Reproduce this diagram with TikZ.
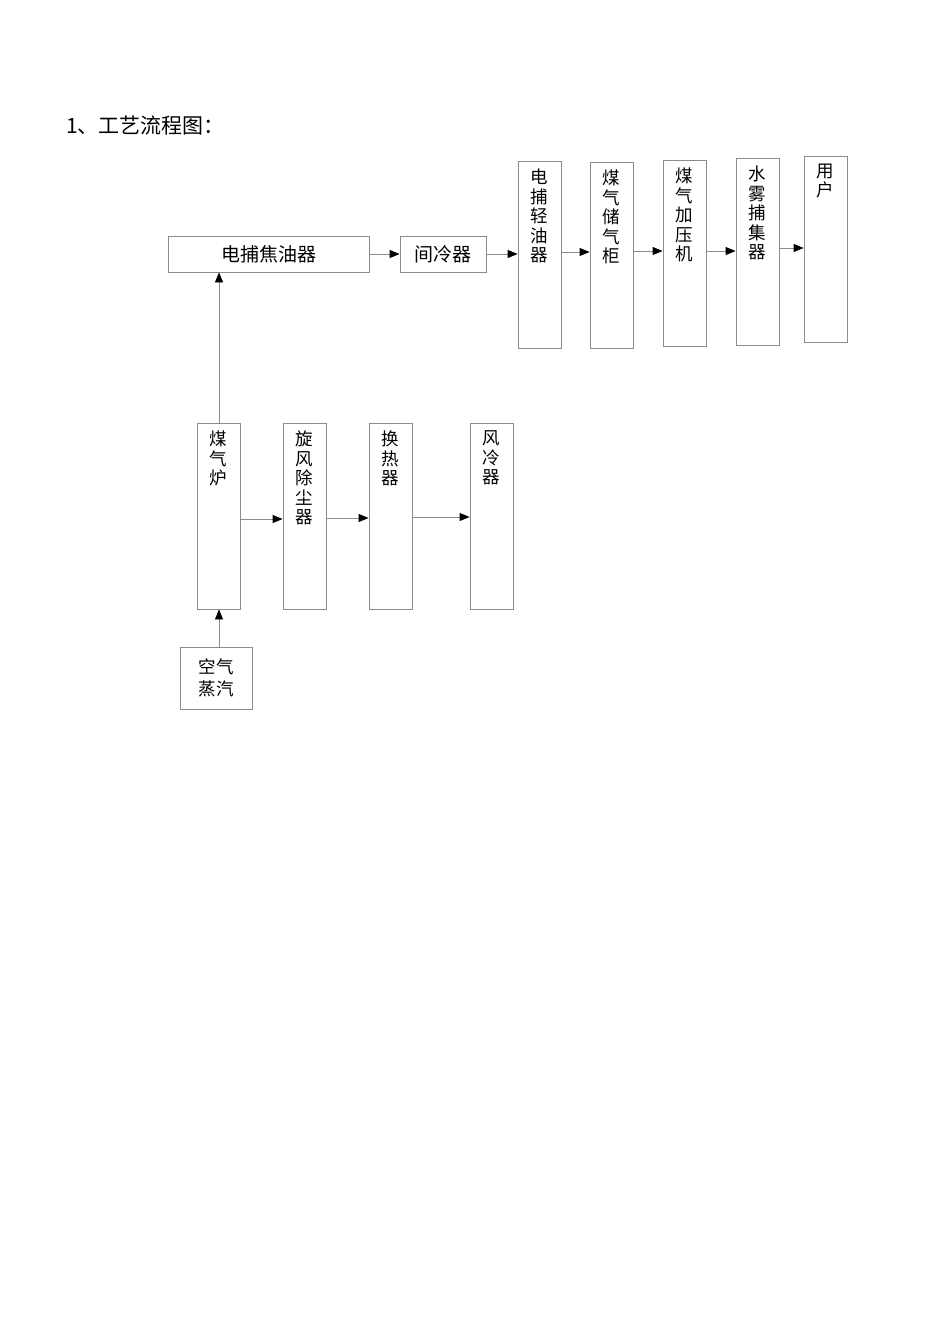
\documentclass[tikz,border=0pt]{standalone}
\usepackage{fontspec}
\setmainfont{Noto Sans CJK SC}
\usetikzlibrary{arrows.meta}
\begin{document}
\begin{tikzpicture}[x=1pt,y=-1pt,
  box/.style={draw=black!45,line width=0.8pt,inner sep=0pt,minimum width=#1},
  box/.default=43pt,
  vtxt/.style={anchor=north,inner sep=0pt,align=center,font=\fontsize{17.5}{19.6}\selectfont},
  htxt/.style={font=\fontsize{19}{22}\selectfont},
  arr/.style={draw=black!45,line width=0.8pt,-{Triangle[black,length=10pt,width=8pt]}}
]
\path[use as bounding box] (0,0) rectangle (950,1344);
\node[anchor=west,inner sep=0pt,font=\fontsize{21}{24}\selectfont] (title) at (66,126) {1、工艺流程图：};

% top row
\node[box=201pt,minimum height=36pt,htxt] (djy) at (268.5,254) {电捕焦油器};
\node[box=86pt,minimum height=36pt,htxt] (jlq) at (443,254) {间冷器};
\node[box,minimum height=187pt] (dqy) at (539.5,254.5) {};
\node[box,minimum height=186pt] (cqg) at (611.5,255) {};
\node[box,minimum height=186pt] (jyj) at (684.5,253) {};
\node[box,minimum height=187pt] (swb) at (757.5,251.5) {};
\node[box,minimum height=186pt] (yh) at (825.5,249) {};
\node[vtxt] (dqy-t) at ([yshift=-8pt]dqy.north) {电\\捕\\轻\\油\\器};
\node[vtxt] (cqg-t) at ([yshift=-8pt]cqg.north) {煤\\气\\储\\气\\柜};
\node[vtxt] (jyj-t) at ([yshift=-8pt]jyj.north) {煤\\气\\加\\压\\机};
\node[vtxt] (swb-t) at ([yshift=-8pt]swb.north) {水\\雾\\捕\\集\\器};
\node[vtxt] (yh-t) at ([yshift=-8pt]yh.north) {用\\户};

\draw[arr] (djy.east |- 0,254) -- (jlq.west |- 0,254);
\draw[arr] (jlq.east |- 0,254) -- (dqy.west |- 0,254);
\draw[arr] (dqy.east |- 0,252) -- (cqg.west |- 0,252);
\draw[arr] (cqg.east |- 0,251) -- (jyj.west |- 0,251);
\draw[arr] (jyj.east |- 0,251) -- (swb.west |- 0,251);
\draw[arr] (swb.east |- 0,248) -- (yh.west |- 0,248);

% bottom row
\node[box,minimum height=186pt] (mql) at (218.5,516) {};
\node[box,minimum height=186pt] (xfc) at (304.5,516) {};
\node[box,minimum height=186pt] (hrq) at (390.5,516) {};
\node[box,minimum height=186pt] (flq) at (491.5,516) {};
\node[vtxt] (mql-t) at ([yshift=-8pt]mql.north) {煤\\气\\炉};
\node[vtxt] (xfc-t) at ([yshift=-8pt]xfc.north) {旋\\风\\除\\尘\\器};
\node[vtxt] (hrq-t) at ([yshift=-8pt]hrq.north) {换\\热\\器};
\node[vtxt] (flq-t) at ([yshift=-8pt]flq.north) {风\\冷\\器};
\node[box=72pt,minimum height=62pt,align=center,font=\fontsize{17.5}{22}\selectfont] (kq) at (216,678) {空气\\蒸汽};

\draw[arr] (mql.east |- 0,519) -- (xfc.west |- 0,519);
\draw[arr] (xfc.east |- 0,518) -- (hrq.west |- 0,518);
\draw[arr] (hrq.east |- 0,517) -- (flq.west |- 0,517);
\draw[arr] (mql.north -| 219,0) -- (djy.south -| 219,0);
\draw[arr] (kq.north -| 219,0) -- (mql.south -| 219,0);
\end{tikzpicture}
\end{document}
